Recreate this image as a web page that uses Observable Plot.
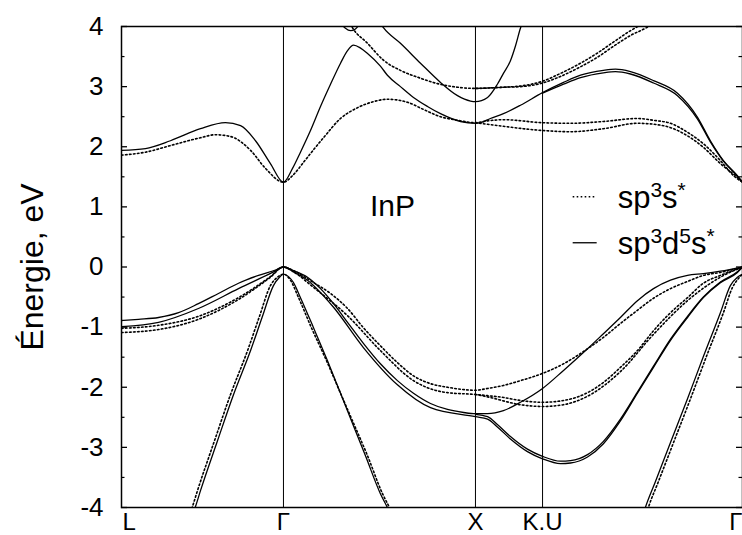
<!DOCTYPE html>
<html>
<head>
<meta charset="utf-8">
<script src="https://cdn.jsdelivr.net/npm/d3@7"></script>
<script src="https://cdn.jsdelivr.net/npm/@observablehq/plot@0.6"></script>
<style>
  html, body { margin: 0; padding: 0; background: #fff; }
  #chart { width: 742px; height: 535px; overflow: hidden; }
  #chart svg { display: block; }
</style>
</head>
<body>
<div id="chart"></div>
<script>
// InP band structure along L–Γ–X–K.U–Γ, sp3s* (dotted) vs sp3d5s* (solid) tight-binding.
// k is the path length in units of 2π/a, E in eV (valence band maximum at 0).

const kSym = [0, 0.857, 1.873, 2.228, 3.286];
const kNames = ["L", "Γ", "X", "K.U", "Γ"];
const yMajor = [-4, -3, -2, -1, 0, 1, 2, 3, 4];
const yMinor = [-3.5, -2.5, -1.5, -0.5, 0.5, 1.5, 2.5, 3.5];

// ---- sp3d5s* bands ----
const sdCond1 = [[0,1.94],[0.127,1.97],[0.259,2.10],[0.418,2.30],[0.550,2.40],[0.630,2.35],[0.709,2.10],[0.788,1.72],[0.857,1.41],
  [0.905,1.64],[0.947,1.91],[1.000,2.27],[1.053,2.67],[1.106,3.04],[1.159,3.39],[1.196,3.60],[1.228,3.69],[1.265,3.64],[1.302,3.55],
  [1.370,3.34],[1.407,3.19],[1.476,3.00],[1.545,2.82],[1.619,2.67],[1.688,2.55],[1.794,2.42],[1.873,2.39],
  [1.899,2.40],[1.952,2.47],[2.021,2.55],[2.111,2.69],[2.228,2.90],[2.339,3.07],[2.429,3.19],[2.550,3.27],[2.614,3.29],
  [2.693,3.25],[2.815,3.10],[2.942,2.89],[3.048,2.49],[3.116,2.10],[3.185,1.77],[3.259,1.52],[3.286,1.41]];
const sdCond1b = [[2.228,2.89],[2.339,3.04],[2.429,3.15],[2.550,3.23],[2.614,3.25],[2.693,3.21],[2.815,3.06],[2.942,2.85],
  [3.048,2.46],[3.116,2.08],[3.185,1.76],[3.259,1.51],[3.286,1.41]];
const sdCond2 = [[1.360,4.10],[1.386,3.98],[1.476,3.72],[1.582,3.39],[1.688,3.07],[1.778,2.85],[1.847,2.76],[1.873,2.75],
  [1.937,2.82],[1.989,3.04],[2.021,3.22],[2.058,3.43],[2.085,3.68],[2.111,3.97],[2.127,4.10]];
const sdCond3 = [[1.159,4.06],[1.185,3.97],[1.212,3.93],[1.238,3.96],[1.265,4.06]];
const sdVal1 = [[0,-0.89],[0.090,-0.87],[0.196,-0.84],[0.302,-0.76],[0.407,-0.61],[0.513,-0.44],[0.619,-0.27],[0.725,-0.14],[0.815,-0.05],[0.857,0],
  [0.910,-0.06],[0.984,-0.17],[1.053,-0.36],[1.122,-0.61],[1.196,-0.92],[1.280,-1.27],[1.370,-1.61],[1.460,-1.89],[1.545,-2.10],
  [1.635,-2.27],[1.725,-2.37],[1.810,-2.42],[1.873,-2.44],
  [1.937,-2.44],[2.021,-2.39],[2.111,-2.25],[2.228,-2.02],[2.339,-1.72],[2.466,-1.36],[2.550,-1.11],[2.640,-0.84],[2.730,-0.56],
  [2.815,-0.36],[2.905,-0.22],[2.995,-0.14],[3.079,-0.11],[3.169,-0.07],[3.286,0]];
const sdVal2 = [[0,-0.99],[0.196,-0.92],[0.407,-0.69],[0.619,-0.36],[0.799,-0.09],[0.857,0],
  [0.910,-0.08],[0.984,-0.22],[1.122,-0.67],[1.280,-1.34],[1.460,-1.96],[1.635,-2.34],[1.873,-2.49],
  [1.937,-2.53],[1.989,-2.66],[2.058,-2.86],[2.148,-3.07],[2.228,-3.19],[2.323,-3.27],[2.376,-3.26],[2.466,-3.16],[2.550,-2.94],
  [2.640,-2.56],[2.730,-2.10],[2.815,-1.67],[2.905,-1.22],[2.995,-0.84],[3.079,-0.51],[3.169,-0.26],[3.259,-0.09],[3.286,0]];
const sdVal3 = [[1.873,-2.45],[1.937,-2.49],[1.989,-2.62],[2.058,-2.82],[2.148,-3.03],[2.228,-3.15],[2.323,-3.23],[2.376,-3.22],
  [2.466,-3.12],[2.550,-2.90],[2.640,-2.53],[2.730,-2.08],[2.815,-1.65],[2.905,-1.20],[2.995,-0.82],[3.079,-0.50],[3.169,-0.25],[3.259,-0.08],[3.286,0]];
const sdSplitA = [[0.381,-4.08],[0.392,-3.98],[0.418,-3.72],[0.508,-2.89],[0.593,-2.12],[0.683,-1.39],[0.746,-0.82],[0.804,-0.31],[0.836,-0.17],[0.857,-0.12],
  [0.884,-0.16],[0.910,-0.26],[0.947,-0.51],[1.016,-1.01],[1.090,-1.56],[1.159,-2.10],[1.222,-2.60],[1.291,-3.14],[1.370,-3.77],[1.407,-4.0],[1.423,-4.1]];
const sdSplitB = [[2.762,-4.1],[2.772,-4.0],[2.825,-3.57],[2.905,-2.92],[2.995,-2.19],[3.079,-1.49],[3.169,-0.76],[3.222,-0.31],[3.259,-0.17],[3.286,-0.12]];

// ---- sp3s* bands ----
const spCond1 = [[0,1.86],[0.127,1.91],[0.259,2.02],[0.418,2.15],[0.497,2.20],[0.577,2.17],[0.683,1.94],[0.762,1.64],[0.857,1.41],
  [0.905,1.52],[0.963,1.74],[1.016,1.95],[1.069,2.15],[1.159,2.47],[1.249,2.65],[1.333,2.75],[1.407,2.79],[1.513,2.74],[1.598,2.62],
  [1.688,2.50],[1.778,2.44],[1.873,2.40],
  [1.937,2.43],[2.021,2.45],[2.228,2.40],[2.376,2.39],[2.550,2.42],[2.730,2.47],[2.815,2.44],[2.905,2.39],[2.995,2.24],[3.079,2.05],
  [3.169,1.77],[3.238,1.52],[3.286,1.41]];
const spCond1b = [[1.873,2.40],[2.021,2.34],[2.228,2.27],[2.376,2.25],[2.550,2.30],[2.730,2.39],[2.868,2.35],[2.974,2.22],[3.079,1.99],
  [3.169,1.72],[3.259,1.49],[3.286,1.41]];
const spCond2 = [[1.201,4.10],[1.222,3.98],[1.302,3.72],[1.386,3.44],[1.476,3.27],[1.582,3.14],[1.672,3.05],[1.778,2.99],[1.873,2.97],
  [2.021,2.99],[2.111,3.00],[2.228,3.06],[2.323,3.17],[2.429,3.33],[2.519,3.49],[2.603,3.67],[2.693,3.85],[2.783,3.99],[2.825,4.08]];
const spCond2b = [[1.873,2.97],[2.021,2.99],[2.111,3.01],[2.228,3.09],[2.323,3.22],[2.429,3.39],[2.519,3.56],[2.603,3.74],[2.693,3.93],[2.762,4.05]];
const spVal1 = [[0,-1.02],[0.196,-0.97],[0.407,-0.82],[0.619,-0.51],[0.788,-0.16],[0.857,0],
  [0.910,-0.06],[1.016,-0.26],[1.106,-0.44],[1.196,-0.69],[1.280,-1.01],[1.370,-1.31],[1.460,-1.59],[1.545,-1.81],[1.635,-1.94],
  [1.725,-2.00],[1.873,-2.05],
  [1.937,-2.02],[2.021,-1.97],[2.111,-1.89],[2.228,-1.77],[2.339,-1.61],[2.466,-1.36],[2.550,-1.17],[2.640,-0.94],[2.730,-0.72],
  [2.815,-0.52],[2.905,-0.36],[2.995,-0.24],[3.079,-0.14],[3.169,-0.09],[3.286,0]];
const spVal2 = [[0,-1.09],[0.196,-1.04],[0.407,-0.87],[0.619,-0.54],[0.788,-0.17],[0.857,0],
  [0.910,-0.08],[1.016,-0.34],[1.196,-0.81],[1.370,-1.39],[1.545,-1.89],[1.725,-2.09],[1.873,-2.12],
  [1.937,-2.14],[2.021,-2.17],[2.111,-2.22],[2.228,-2.25],[2.339,-2.22],[2.466,-2.09],[2.550,-1.92],[2.640,-1.67],[2.730,-1.39],
  [2.815,-1.06],[2.905,-0.76],[2.995,-0.51],[3.079,-0.27],[3.169,-0.14],[3.286,0]];
const spVal3 = [[1.873,-2.12],[1.937,-2.16],[2.111,-2.29],[2.228,-2.32],[2.339,-2.29],[2.466,-2.15],[2.640,-1.74],[2.815,-1.12],
  [2.995,-0.56],[3.169,-0.17],[3.286,0]];
const spSplitA = [[0.365,-4.08],[0.376,-3.98],[0.402,-3.72],[0.492,-2.89],[0.577,-2.12],[0.667,-1.39],[0.730,-0.82],[0.788,-0.31],[0.825,-0.17],[0.857,-0.12],
  [0.894,-0.22],[0.937,-0.51],[1.005,-1.01],[1.085,-1.56],[1.159,-2.10],[1.228,-2.60],[1.302,-3.14],[1.381,-3.77],[1.418,-4.0],[1.434,-4.1]];
const spSplitB = [[2.778,-4.1],[2.788,-4.0],[2.841,-3.57],[2.921,-2.92],[3.011,-2.19],[3.095,-1.49],[3.185,-0.76],[3.233,-0.34],[3.265,-0.19],[3.286,-0.12]];

const sp3d5sBands = [sdCond1, sdCond1b, sdCond2, sdCond3, sdVal1, sdVal2, sdVal3, sdSplitA, sdSplitB];
const sp3sBands = [spCond1, spCond1b, spCond2, spCond2b, spVal1, spVal2, spVal3, spSplitA, spSplitB];

const materialName = "InP";
const materialAt = {k: 1.434, E: 1.0};
const yTitle = "Énergie, eV";
// legend labels: [text, isSuperscript]
const legendLabels = [
  [["sp", 0], ["3", 1], ["s", 0], ["*", 1]],
  [["sp", 0], ["3", 1], ["d", 0], ["5", 1], ["s", 0], ["*", 1]]
];
const legendAt = {k: 2.39, E: 1.16};

const FONT = "'Liberation Sans', Arial, Helvetica, sans-serif";
const DOTS = "1.6,2.4";
const W = 742, H = 535, ML = 121, MR = 0, MT = 26, MB = 28;
const frameW = W - ML - MR;
const last = kSym.length - 1;

const toRows = (bands, model) =>
  bands.flatMap((pts, i) => pts.map(([k, E]) => ({k, E, band: `${model}-${i}`})));
const solidRows = toRows(sp3d5sBands, "sp3d5s");
const dottedRows = toRows(sp3sBands, "sp3s");

const symLabel = (which, anchor, dx) =>
  Plot.text(kSym, {x: d => d, text: (d, i) => kNames[i], filter: which, frameAnchor: "bottom",
    lineAnchor: "top", dy: 5, dx, textAnchor: anchor, fontSize: 24});

const chart = Plot.plot({
  width: W,
  height: H,
  marginLeft: ML,
  marginRight: MR,
  marginTop: MT,
  marginBottom: MB,
  style: {fontFamily: FONT, fontSize: "26px", color: "black", background: "white", overflow: "hidden"},
  x: {domain: [0, kSym[last]], axis: null},
  y: {domain: [-4, 4]},
  marks: [
    Plot.ruleX(kSym.slice(1, last), {stroke: "black", strokeWidth: 1}),
    Plot.line(dottedRows, {x: "k", y: "E", z: "band", curve: "monotone-x", stroke: "black",
      strokeWidth: 1.6, strokeDasharray: DOTS, clip: true}),
    Plot.line(solidRows, {x: "k", y: "E", z: "band", curve: "monotone-x", stroke: "black",
      strokeWidth: 1.3, clip: true}),
    Plot.frame({stroke: "black", strokeWidth: 1.5}),
    // inward ticks on both sides of the frame
    Plot.ruleY(yMajor, {insetRight: frameW - 6, strokeWidth: 1.3}),
    Plot.ruleY(yMinor, {insetRight: frameW - 3.5, strokeWidth: 1.2}),
    Plot.ruleY(yMajor, {insetLeft: frameW - 6, strokeWidth: 1.3}),
    Plot.ruleY(yMinor, {insetLeft: frameW - 3.5, strokeWidth: 1.2}),
    Plot.axisY(yMajor, {anchor: "left", tickSize: 0, tickPadding: 18, tickFormat: d => String(d), label: null, fontSize: 26}),
    // symmetry point labels
    symLabel((d, i) => i === 0, "start", 1),
    symLabel((d, i) => i > 0 && i < last, "middle", 0),
    symLabel((d, i) => i === last, "end", 0),
    Plot.text([yTitle], {text: d => d, frameAnchor: "left", textAnchor: "middle", rotate: -90, dx: -89, fontSize: 32}),
    Plot.text([materialAt], {x: "k", y: "E", text: () => materialName, fontSize: 30})
  ]
});

document.getElementById("chart").appendChild(chart);

// legend with superscripts
const sx = chart.scale("x"), sy = chart.scale("y");
const legend = d3.select(chart).append("g")
  .attr("font-family", FONT).attr("font-size", 31).attr("fill", "black").attr("text-anchor", "start");
const legendStyles = [{dash: DOTS, width: 1.6}, {dash: null, width: 1.3}];
legendLabels.forEach((parts, i) => {
  const x0 = sx.apply(legendAt.k);
  const y0 = sy.apply(legendAt.E) + i * 46;
  legend.append("line")
    .attr("x1", x0).attr("x2", x0 + 24).attr("y1", y0).attr("y2", y0)
    .attr("stroke", "black").attr("stroke-width", legendStyles[i].width)
    .attr("stroke-dasharray", legendStyles[i].dash);
  const t = legend.append("text").attr("x", x0 + 45).attr("y", y0 + 11);
  let shift = 0;
  for (const [s, sup] of parts) {
    const target = sup ? -11 : 0;
    t.append("tspan").attr("dy", target - shift).attr("font-size", sup ? 21 : 31).text(s);
    shift = target;
  }
});
</script>
</body>
</html>
